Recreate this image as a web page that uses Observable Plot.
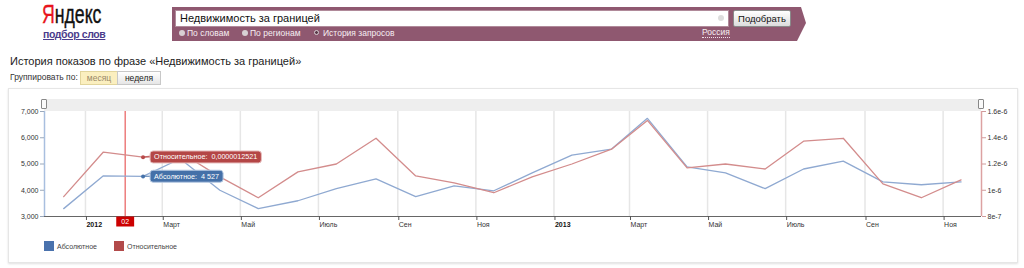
<!DOCTYPE html>
<html><head><meta charset="utf-8">
<script src="https://cdn.jsdelivr.net/npm/d3@7"></script>
<script src="https://cdn.jsdelivr.net/npm/@observablehq/plot@0.6"></script>
<style>
body{margin:0;background:#fff;font-family:"Liberation Sans",Arial,sans-serif;}
#page{position:relative;width:1024px;height:268px;overflow:hidden;background:#fff;}
.a{position:absolute;white-space:nowrap;}
.radio{position:absolute;width:6px;height:6px;border-radius:50%;background:#d8d0d4;}
.rl{position:absolute;font-size:8.5px;color:#f6eef2;line-height:10px;}
</style></head><body>
<div id="page">
  <!-- header -->
  <div class="a" style="left:42px;top:-1px;font-size:26px;line-height:30px;transform:scaleX(0.68);transform-origin:left top;color:#111;-webkit-text-stroke:0.4px #111;"><span style="color:#e8141b;-webkit-text-stroke:0.4px #e8141b;">Я</span>ндекс</div>
  <div class="a" style="left:43px;top:28px;font-size:10.5px;line-height:12px;color:#4b3c8c;text-decoration:underline;font-weight:bold;letter-spacing:-0.4px;">подбор слов</div>
  <div class="a" style="left:172px;top:7px;width:634px;height:34px;background:#8f5870;clip-path:polygon(0 0,629px 0,634px 16px,625px 34px,0 34px);"></div>
  <div class="a" style="left:175px;top:10px;width:552px;height:15px;background:#fff;border:1px solid #b08a9a;"></div>
  <div class="a" style="left:180px;top:11px;font-size:11px;line-height:14px;color:#111;">Недвижимость за границей</div>
  <div class="a" style="left:718px;top:15px;width:6px;height:6px;border-radius:50%;background:#ddd;"></div>
  <div class="a" style="left:733px;top:10px;width:56px;height:15px;border:1px solid #8a8a8a;border-radius:2px;background:linear-gradient(#ffffff,#dcdcdc);font-size:9.5px;line-height:15px;text-align:center;color:#111;">Подобрать</div>
  <div class="radio" style="left:179px;top:30px;"></div><div class="rl" style="left:187px;top:28px;">По словам</div>
  <div class="radio" style="left:242px;top:30px;"></div><div class="rl" style="left:250px;top:28px;">По регионам</div>
  <div class="radio" style="left:314px;top:30px;background:#5a3848;border:1.5px solid #d8d0d4;width:3px;height:3px;"></div><div class="rl" style="left:323px;top:28px;">История запросов</div>
  <div class="rl" style="left:702px;top:28px;border-bottom:1px dotted #f0e0ea;line-height:9px;">Россия</div>

  <div class="a" style="left:10px;top:54px;font-size:11px;line-height:14px;color:#222;">История показов по фразе «Недвижимость за границей»</div>
  <div class="a" style="left:10px;top:72px;font-size:8.5px;line-height:11px;color:#333;">Группировать по:</div>
  <div class="a" style="left:80px;top:71px;width:36px;height:12px;background:#fbefbf;border:1px solid #e2d59c;font-size:8.5px;line-height:12px;text-align:center;color:#9a8a68;">месяц</div>
  <div class="a" style="left:117px;top:71px;width:42px;height:12px;background:linear-gradient(#ffffff,#e6e6e6);border:1px solid #c8c8c8;font-size:8.5px;line-height:12px;text-align:center;color:#222;">неделя</div>

  <!-- chart frame -->
  <div class="a" style="left:8px;top:88px;width:1008px;height:173px;border:1px solid #e6e6e6;box-shadow:0 1px 2px #e0e0e0;"></div>
  <div class="a" style="left:44px;top:99px;width:937px;height:12px;background:#eeeeee;"></div>
  <div class="a" style="left:41px;top:99px;width:4px;height:8px;border:1px solid #888;border-radius:1px;background:#fafafa;"></div>
  <div class="a" style="left:978px;top:99px;width:4px;height:8px;border:1px solid #888;border-radius:1px;background:#fafafa;"></div>
  <div id="chart" class="a" style="left:0;top:88px;"></div>

  <!-- legend -->
  <div class="a" style="left:44px;top:241px;width:10px;height:10px;background:#4a72ad;"></div>
  <div class="a" style="left:57px;top:242px;font-size:7px;line-height:9px;color:#444;" id="lg0"></div>
  <div class="a" style="left:114px;top:241px;width:10px;height:10px;background:#b24a4a;"></div>
  <div class="a" style="left:127px;top:242px;font-size:7px;line-height:9px;color:#444;" id="lg1"></div>
</div>
<script>
// ---- data ----
const seriesNames = ["Абсолютное", "Относительное"];
const months = ["2011-12","2012-01","2012-02","2012-03","2012-04","2012-05","2012-06","2012-07","2012-08","2012-09","2012-10","2012-11","2012-12",
                "2013-01","2013-02","2013-03","2013-04","2013-05","2013-06","2013-07","2013-08","2013-09","2013-10","2013-11"];
const absolute = [3300, 4550, 4527, 5200, 4000, 3300, 3600, 4060, 4430, 3760, 4170, 3980, 4660,
                  5340, 5570, 6740, 4890, 4660, 4060, 4810, 5110, 4320, 4210, 4320];
const relative = [9.51e-7, 1.291e-6, 1.2521e-6, 1.29e-6, 1.102e-6, 9.43e-7, 1.14e-6, 1.2e-6, 1.396e-6, 1.109e-6, 1.057e-6, 9.81e-7, 1.102e-6,
                  1.2e-6, 1.313e-6, 1.532e-6, 1.17e-6, 1.2e-6, 1.162e-6, 1.374e-6, 1.396e-6, 1.049e-6, 9.43e-7, 1.079e-6];
const yTicks = [3000, 4000, 5000, 6000, 7000];
const relTicks = [8e-7, 1e-6, 1.2e-6, 1.4e-6, 1.6e-6];
const relTickLabels = ["8e-7", "1e-6", "1.2e-6", "1.4e-6", "1.6e-6"];
const xTickMonths = ["2012-01","2012-03","2012-05","2012-07","2012-09","2012-11","2013-01","2013-03","2013-05","2013-07","2013-09","2013-11"];
const xTickLabels = ["2012","Март","Май","Июль","Сен","Ноя","2013","Март","Май","Июль","Сен","Ноя"];
const hoverMonth = "2012-02";
const cursorMonth = "2012-02";
const cursorLabel = "02";

// ---- helpers ----
const mid = s => new Date(Date.UTC(+s.slice(0,4), +s.slice(5,7)-1, 15));
const first = s => new Date(Date.UTC(+s.slice(0,4), +s.slice(5,7)-1, 1));
const xDomain = [new Date(Date.UTC(2011,10,30)), new Date(Date.UTC(2013,11,1))];
const yDomain = [3000, 7000];
const relToAbs = d3.scaleLinear().domain([relTicks[0], relTicks[relTicks.length-1]]).range(yDomain);
const absData = months.map((m,i) => ({date: mid(m), value: absolute[i]}));
const relData = months.map((m,i) => ({date: mid(m), value: relToAbs(relative[i])}));
const tickDates = xTickMonths.map(first);
const labelMap = new Map(tickDates.map((d,i) => [+d, xTickLabels[i]]));
const yearTicks = tickDates.filter(d => /^\d{4}$/.test(labelMap.get(+d)));
const monthTicks = tickDates.filter(d => !/^\d{4}$/.test(labelMap.get(+d)));
const relAbsTicks = relTicks.map(relToAbs);
const relLabelMap = new Map(relAbsTicks.map((v,i) => [Math.round(v), relTickLabels[i]]));
const hi = months.indexOf(hoverMonth);
const cursorDate = first(cursorMonth);
const fmtAbs = v => d3.format(",")(v).replace(/,/g, "\u00a0");
const fmtRel = v => v.toFixed(10).replace(".", ",");

document.getElementById("lg0").textContent = seriesNames[0];
document.getElementById("lg1").textContent = seriesNames[1];

const chart = Plot.plot({
  width: 1024, height: 175,
  marginLeft: 44, marginRight: 43, marginTop: 23, marginBottom: 47,
  x: {type: "utc", domain: xDomain, label: null},
  y: {domain: yDomain, label: null},
  style: {background: "transparent", fontFamily: "'Liberation Sans', Arial, sans-serif", fontSize: "7px", color: "#333", overflow: "visible"},
  marks: [
    Plot.gridX({ticks: tickDates, stroke: "#e6e6e6", strokeOpacity: 1, strokeWidth: 1.5}),
    Plot.ruleX([cursorDate], {stroke: "#e33b3b", strokeWidth: 1}),
    Plot.line(absData, {x: "date", y: "value", stroke: "#8fa9d1", strokeWidth: 1.3}),
    Plot.line(relData, {x: "date", y: "value", stroke: "#d38c8c", strokeWidth: 1.3}),
    Plot.ruleY([yDomain[0]], {stroke: "#666", strokeWidth: 1.2}),
    Plot.ruleX([xDomain[0]], {stroke: "#a8bfdf", strokeWidth: 1.5}),
    Plot.ruleX([xDomain[1]], {stroke: "#dca2a2", strokeWidth: 1.5}),
    Plot.axisY({ticks: yTicks, tickFormat: d3.format(","), tickSize: 4, tickPadding: 2, stroke: "#9aa8bb", fill: "#333", label: null}),
    Plot.axisY({anchor: "right", ticks: relAbsTicks, tickFormat: d => relLabelMap.get(Math.round(d)), tickSize: 4, tickPadding: 2, stroke: "#d09a9a", fill: "#333", label: null}),
    Plot.axisX({ticks: monthTicks, tickFormat: d => labelMap.get(+d), tickSize: 4, tickPadding: 2, textAnchor: "start", dx: 1, stroke: "#555", fill: "#333", label: null}),
    Plot.axisX({ticks: yearTicks, tickFormat: d => labelMap.get(+d), tickSize: 4, tickPadding: 2, textAnchor: "start", dx: 1, stroke: "#555", fill: "#111", fontWeight: "bold", label: null}),
    Plot.text([cursorDate], {x: d => d, frameAnchor: "bottom", dy: 7.5, text: () => cursorLabel, fill: "white", fontSize: 7, ariaDescription: "cursor-label"}),
    Plot.dot([relData[hi]], {x: "date", y: "value", r: 2, fill: "#b84a4a"}),
    Plot.dot([absData[hi]], {x: "date", y: "value", r: 2, fill: "#4672aa"}),
    Plot.text([relData[hi]], {x: "date", y: "value", text: () => seriesNames[1] + ":\u00a0 " + fmtRel(relative[hi]), dx: 11, textAnchor: "start", fill: "white", fontSize: 7.2, ariaDescription: "tip-rel"}),
    Plot.text([absData[hi]], {x: "date", y: "value", text: () => seriesNames[0] + ":\u00a0 " + fmtAbs(absolute[hi]), dx: 11, textAnchor: "start", fill: "white", fontSize: 7.2, ariaDescription: "tip-abs"})
  ]
});
document.getElementById("chart").appendChild(chart);

const NS = "http://www.w3.org/2000/svg";
function boxify(label, fill, stroke, padX, padY, connector, lineColor) {
  chart.querySelectorAll(`g[aria-description="${label}"] text`).forEach(t => {
    const b = t.getBBox();
    const tr = t.getAttribute("transform") || "";
    const r = document.createElementNS(NS, "rect");
    r.setAttribute("x", b.x - padX);
    r.setAttribute("y", b.y - padY);
    r.setAttribute("width", b.width + 2*padX);
    r.setAttribute("height", b.height + 2*padY);
    r.setAttribute("rx", connector ? 3 : 0);
    r.setAttribute("fill", fill);
    if (stroke) { r.setAttribute("stroke", stroke); r.setAttribute("stroke-width", 1); }
    r.setAttribute("transform", tr);
    t.parentNode.insertBefore(r, t);
    if (connector) {
      const l = document.createElementNS(NS, "line");
      const cy = b.y + b.height/2;
      l.setAttribute("x1", b.x - padX - connector);
      l.setAttribute("x2", b.x - padX);
      l.setAttribute("y1", cy); l.setAttribute("y2", cy);
      l.setAttribute("stroke", lineColor); l.setAttribute("stroke-width", 1);
      l.setAttribute("transform", tr);
      t.parentNode.insertBefore(l, r);
    }
  });
}
boxify("cursor-label", "#cc0000", null, 5, 1.5, 0);
boxify("tip-rel", "#b44646", "#e6bcbc", 4, 1.5, 7, "#b84a4a");
boxify("tip-abs", "#4470a8", "#b6c9e2", 4, 1.5, 7, "#4672aa");
</script>
</body></html>
